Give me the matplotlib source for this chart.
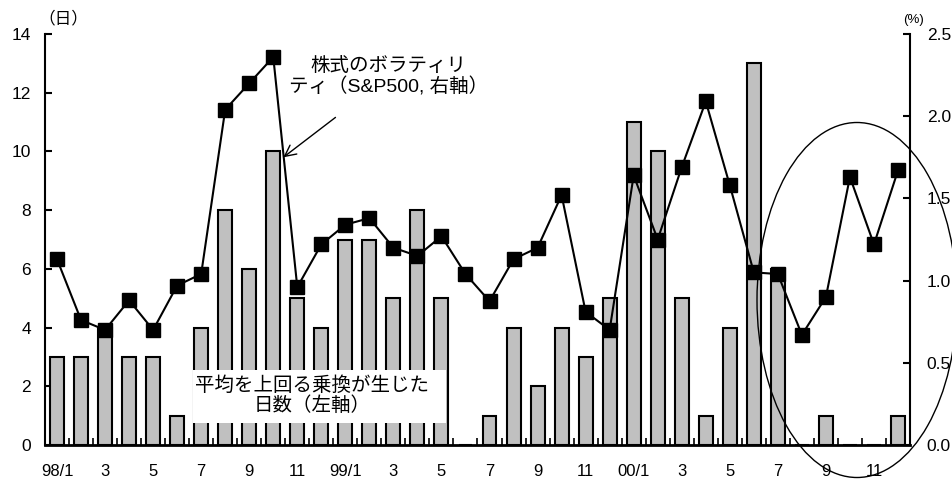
import matplotlib.pyplot as plt
import numpy as np
from matplotlib.patches import Ellipse

plt.rcParams['font.family'] = ['Liberation Sans', 'Noto Sans CJK JP', 'DejaVu Sans']

# 月次: 98/1 ～ 00/12
months = ['98/1', '2', '3', '4', '5', '6', '7', '8', '9', '10', '11', '12',
          '99/1', '2', '3', '4', '5', '6', '7', '8', '9', '10', '11', '12',
          '00/1', '2', '3', '4', '5', '6', '7', '8', '9', '10', '11', '12']

# 平均を上回る乗換が生じた日数(左軸)
days = [3, 3, 4, 3, 3, 1, 4, 8, 6, 10, 5, 4,
        7, 7, 5, 8, 5, 0, 1, 4, 2, 4, 3, 5,
        11, 10, 5, 1, 4, 13, 6, 0, 1, 0, 0, 1]

# 株式のボラティリティ(S&P500, 右軸, %)
vol = [1.13, 0.76, 0.70, 0.88, 0.70, 0.97, 1.04, 2.04, 2.20, 2.36, 0.96, 1.22,
       1.34, 1.38, 1.20, 1.15, 1.27, 1.04, 0.875, 1.13, 1.20, 1.52, 0.81, 0.70,
       1.64, 1.25, 1.69, 2.09, 1.58, 1.05, 1.04, 0.67, 0.90, 1.63, 1.22, 1.67]

x = np.arange(len(months))

fig = plt.figure(figsize=(9.53, 4.84), dpi=100)
ax = fig.add_axes([45 / 953, 1 - 445 / 484, 865 / 953, 411 / 484])

ax.bar(x, days, width=0.58, color='#c0c0c0', edgecolor='black', linewidth=1.5, zorder=2)
ax.set_xlim(-0.5, len(months) - 0.5)
ax.set_ylim(0, 14)
ax.set_yticks(range(0, 15, 2))
ax.set_xticks(x[::2])
ax.set_xticklabels(months[::2])
ax.set_xticks(x[:-1] + 0.5, minor=True)
ax.tick_params(axis='x', which='major', length=0, pad=14, labelsize=12)
ax.tick_params(axis='x', which='minor', direction='in', length=5, width=1.2)
ax.tick_params(axis='y', direction='in', length=5, width=1.5, labelsize=12.5, pad=10)
ax.spines['top'].set_visible(False)
ax.spines['right'].set_visible(False)
ax.spines['left'].set_linewidth(1.5)
ax.spines['bottom'].set_linewidth(2)

ax2 = ax.twinx()
ax2.plot(x, vol, color='black', linewidth=1.5, marker='s', markersize=10, zorder=3)
ax2.set_ylim(0, 2.5)
ax2.set_yticks(np.arange(0, 2.51, 0.5))
ax2.set_yticklabels(['%.1f' % v for v in np.arange(0, 2.51, 0.5)])
ax2.tick_params(axis='y', direction='in', length=5, width=1.5, labelsize=12.5, pad=12)
for s in ['top', 'left', 'bottom']:
    ax2.spines[s].set_visible(False)
ax2.spines['right'].set_linewidth(1.5)

fig.text(38 / 953, 1 - 18 / 484, '（日）', fontsize=12, va='center')
fig.text(903 / 953, 1 - 20 / 484, '(%)', fontsize=9.5, va='center')

# 注記
ax2.annotate('株式のボラティリ\nティ（S&P500, 右軸）',
             xy=(9.42, 1.75), xycoords='data',
             xytext=(13.8, 2.24), textcoords='data',
             ha='center', va='center', fontsize=14, linespacing=1.1,
             arrowprops=dict(arrowstyle='->', color='black', lw=1,
                             shrinkA=22, shrinkB=0, mutation_scale=20))

fig.patches.append(plt.Rectangle((193 / 953, 1 - 423 / 484), 253 / 953, 53 / 484,
                                 transform=fig.transFigure, facecolor='white',
                                 edgecolor='none', zorder=5))
fig.text(312 / 953, 1 - 396 / 484, '平均を上回る乗換が生じた\n日数（左軸）',
         ha='center', va='center', fontsize=14, linespacing=1.1, zorder=6)

fig.patches.append(Ellipse((857 / 953, 1 - 300 / 484), 200 / 953, 355 / 484,
                           transform=fig.transFigure, facecolor='none',
                           edgecolor='black', linewidth=1, zorder=7))

fig.savefig('out.png', dpi=100)
